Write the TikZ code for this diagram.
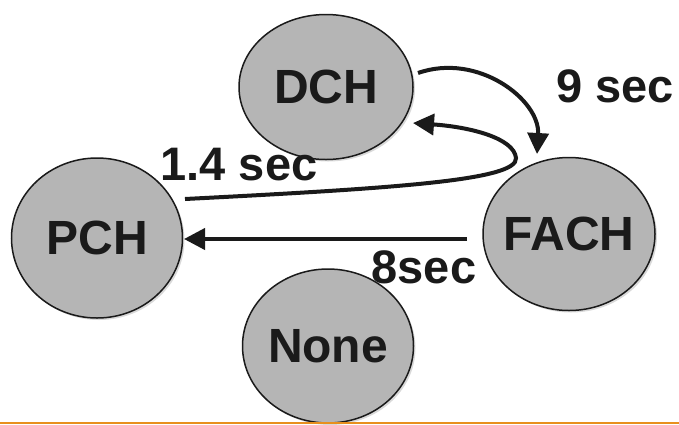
\documentclass[tikz,border=0pt]{standalone}
\usepackage{fontspec}
\setmainfont{Liberation Sans}
\usetikzlibrary{shapes.geometric,arrows.meta,shadows}
\definecolor{nodefill}{HTML}{B5B5B5}
\definecolor{ink}{HTML}{1A1A1A}
\definecolor{rule}{HTML}{E8901E}
\tikzset{
  state/.style={ellipse, draw=ink, line width=1.5pt, fill=nodefill, inner xsep=-14pt, inner ysep=0pt,
    font=\fontsize{48}{48}\selectfont\bfseries, text=ink,
    drop shadow={shadow xshift=2pt, shadow yshift=-2pt, opacity=0.15, fill=black}},
  lbl/.style={font=\fontsize{47}{47}\selectfont\bfseries, text=ink, inner sep=0pt},
  arr/.style={draw=ink, line width=4pt, -{Triangle[length=21pt,width=21pt]}},
}
\begin{document}
\begin{tikzpicture}[x=1pt,y=-1pt]
\useasboundingbox (0,0) rectangle (679,424);
\fill[white] (0,0) rectangle (679,424);
\node[state, minimum width=174pt, minimum height=145pt] (DCH) at (326,87) {DCH};
\node[state, minimum width=171pt, minimum height=160pt] (PCH) at (97,238) {PCH};
\node[state, minimum width=172pt, minimum height=153pt] (FACH) at (569,234) {FACH};
\node[state, minimum width=171pt, minimum height=154pt] (None) at (328,346) {None};
\coordinate (d1) at (418,73);
\coordinate (f1) at (537,154);
\coordinate (p1) at (185,199);
\coordinate (turn) at (516,158);
\coordinate (d2) at (413,123);
\coordinate (f2) at (467,239);
\coordinate (p2) at (184,239);
\draw[arr] (d1) .. controls (478,52) and (540,100) .. (f1);
\draw[arr] (p1) .. controls (400,188) and (518,180) .. (turn) .. controls (514,138) and (470,127) .. (d2);
\draw[arr] (f2) -- (p2);
\node[lbl] (t9) at (615,86) {9 sec};
\node[lbl] (t14) at (239,165) {1.4 sec};
\node[lbl] (t8) at (424,267) {8sec};
\draw[rule, line width=2pt] (0,422.5) -- (679,422.5);
\end{tikzpicture}
\end{document}
